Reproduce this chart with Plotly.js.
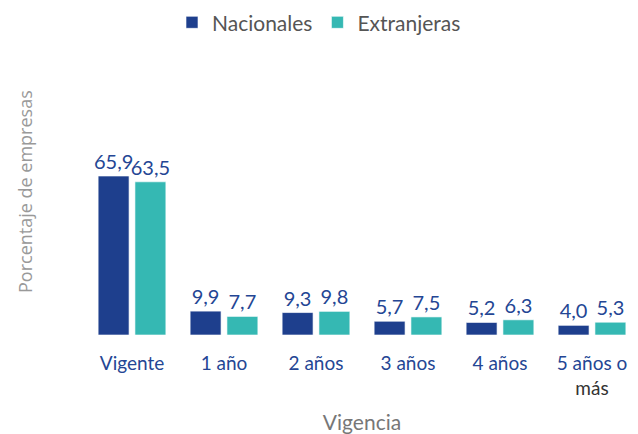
<!DOCTYPE html>
<html><head><meta charset="utf-8">
<script src="https://cdn.plot.ly/plotly-3.0.1.min.js"></script>
<style>html,body{margin:0;padding:0;background:#fff}#c{width:638px;height:434px}</style>
</head><body><div id="c"></div>
<script>
const categories = ["Vigente", "1 año", "2 años", "3 años", "4 años", "5 años o<br><span style='color:#333'>más</span>"];
const nacionales = [65.9, 9.9, 9.3, 5.7, 5.2, 4.0];
const extranjeras = [63.5, 7.7, 9.8, 7.5, 6.3, 5.3];
const seriesNames = ["Nacionales", "Extranjeras"];

const labelFont = {family: "Lato, 'Open Sans', sans-serif", size: 20, color: "#244694"};
function mk(name, vals, color) {
  return {
    type: "bar", name: name, x: categories, y: vals,
    marker: {color: color, line: {color: "rgba(255,255,255,0.6)", width: 1}},
    text: vals.map(v => v.toFixed(1).replace(".", ",")),
    textposition: "outside", textfont: labelFont, cliponaxis: false,
    constraintext: "none", textangle: 0,
    hoverinfo: "skip"
  };
}
const data = [mk(seriesNames[0], nacionales, "#1E3F8D"), mk(seriesNames[1], extranjeras, "#35B8B3")];
const layout = {
  width: 638, height: 434,
  margin: {l: 86, r: 0, t: 142, b: 99},
  paper_bgcolor: "#fff", plot_bgcolor: "#fff",
  barmode: "group", bargap: 0.2, bargroupgap: 0.16,
  showlegend: true,
  legend: {orientation: "h", x: 0.5, xanchor: "center", xref: "container", y: 0.995, yref: "container", yanchor: "top",
           font: {family: "Lato, sans-serif", size: 21, color: "#555"}, itemwidth: 30, tracegroupgap: 0},
  xaxis: {
    showline: false, showgrid: false, zeroline: false,
    tickfont: {family: "Lato, sans-serif", size: 19, color: "#244694"},
    ticks: "", ticklabelstandoff: 15,
    title: {text: "Vigencia", font: {family: "Lato, sans-serif", size: 21, color: "#777"}, standoff: 22}
  },
  yaxis: {
    range: [0, 80], showticklabels: false, showgrid: false, showline: false, zeroline: false, ticks: ""
  },
  annotations: [{
    text: "Porcentaje de empresas", textangle: -90, showarrow: false,
    xref: "paper", yref: "paper", x: -61/552, y: (335-192)/193, xanchor: "center", yanchor: "middle",
    font: {family: "'Open Sans', sans-serif", size: 18, color: "#999"}
  }]
};
Plotly.newPlot("c", data, layout, {displayModeBar: false, staticPlot: true});
</script></body></html>
